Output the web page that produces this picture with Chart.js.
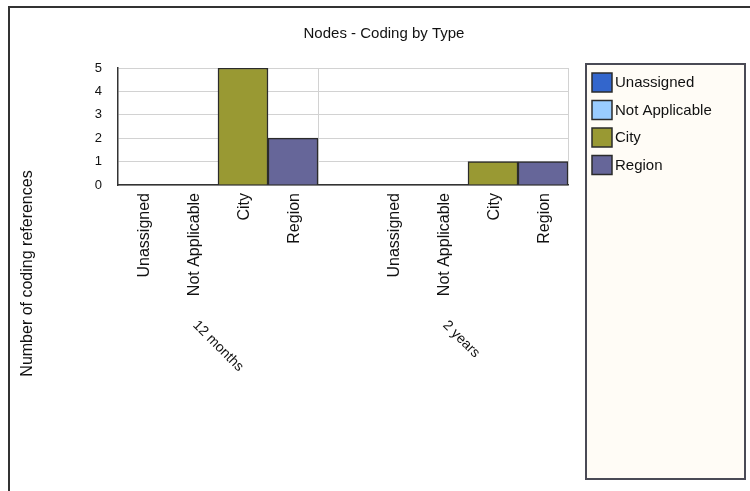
<!DOCTYPE html>
<html>
<head>
<meta charset="utf-8">
<script src="https://cdn.jsdelivr.net/npm/chart.js@4/dist/chart.umd.min.js"></script>
<style>
  html, body { margin: 0; padding: 0; background: #fff; }
  #wrap { width: 750px; height: 491px; position: relative; }
</style>
</head>
<body>
<div id="wrap"><canvas id="c" width="750" height="491"></canvas></div>
<script>
// ---- data ----
const periods = ['12 months', '2 years'];
const codeTypes = ['Unassigned', 'Not Applicable', 'City', 'Region'];
const unassignedRefs = [0, 0];
const notApplicableRefs = [0, 0];
const cityRefs = [5, 1];
const regionRefs = [2, 1];
const yTickValues = [0, 1, 2, 3, 4, 5];
const chartTitle = 'Nodes - Coding by Type';
const yAxisTitle = 'Number of coding references';
const typeColors = ['#3366CC', '#99CCFF', '#999933', '#666699'];

// one slot per (period, type), with an empty slot between periods
const slotsPerPeriod = codeTypes.length + 1;
const slotLabels = [];
periods.forEach((p, pi) => {
  codeTypes.forEach(t => slotLabels.push(t));
  if (pi < periods.length - 1) slotLabels.push('');
});
const seriesValues = [unassignedRefs, notApplicableRefs, cityRefs, regionRefs];
const datasets = codeTypes.map((t, ti) => {
  const data = slotLabels.map(() => null);
  periods.forEach((p, pi) => { data[pi * slotsPerPeriod + ti] = seriesValues[ti][pi]; });
  return {
    label: t,
    data,
    backgroundColor: typeColors[ti],
    borderColor: '#2b2b2b',
    borderWidth: 1.5,
    grouped: false,
    categoryPercentage: 1,
    barPercentage: 1
  };
});

const FONT = "'Liberation Sans', Arial, sans-serif";
Chart.defaults.font.family = FONT;
Chart.defaults.color = '#111';

// frame, legend panel, axis title and period labels
const decorations = {
  id: 'decorations',
  beforeDraw(chart) {
    const ctx = chart.ctx;
    ctx.save();
    ctx.strokeStyle = '#333';
    ctx.lineWidth = 2;
    ctx.beginPath();
    ctx.moveTo(9, 491);
    ctx.lineTo(9, 7);
    ctx.lineTo(750, 7);
    ctx.stroke();
    ctx.restore();
  },
  afterDraw(chart) {
    const ctx = chart.ctx;
    const area = chart.chartArea;
    const xs = chart.scales.x;
    ctx.save();

    // legend panel
    const px = area.right + 18, py = area.top - 4, pw = 159, ph = 415;
    ctx.fillStyle = '#FFFCF6';
    ctx.fillRect(px, py, pw, ph);
    ctx.strokeStyle = '#4a4a55';
    ctx.lineWidth = 2;
    ctx.strokeRect(px, py, pw, ph);
    ctx.font = '15px ' + FONT;
    ctx.textBaseline = 'middle';
    ctx.textAlign = 'left';
    chart.data.datasets.forEach((ds, i) => {
      const sy = py + 9 + i * 27.5;
      ctx.fillStyle = ds.backgroundColor;
      ctx.fillRect(px + 6, sy, 20, 19);
      ctx.strokeStyle = '#2b2b2b';
      ctx.lineWidth = 1.5;
      ctx.strokeRect(px + 6, sy, 20, 19);
      ctx.fillStyle = '#111';
      ctx.fillText(ds.label, px + 29, sy + 10);
    });

    // y axis title, centred on the whole plotting column
    ctx.save();
    ctx.translate(28, (area.top + py + ph) / 2);
    ctx.rotate(-Math.PI / 2);
    ctx.font = '16px ' + FONT;
    ctx.textAlign = 'center';
    ctx.textBaseline = 'middle';
    ctx.fillStyle = '#111';
    ctx.fillText(yAxisTitle, 0, 0);
    ctx.restore();

    // period labels below the type labels
    ctx.font = '14px ' + FONT;
    ctx.fillStyle = '#111';
    ctx.textAlign = 'left';
    ctx.textBaseline = 'middle';
    periods.forEach((p, pi) => {
      const a = xs.getPixelForValue(pi * slotsPerPeriod);
      const b = xs.getPixelForValue(pi * slotsPerPeriod + codeTypes.length - 1);
      const cx = (a + b) / 2;
      ctx.save();
      ctx.translate(cx - 23, 323);
      ctx.rotate(Math.PI / 4);
      ctx.fillText(p, 0, 0);
      ctx.restore();
    });
    ctx.restore();
  }
};

new Chart(document.getElementById('c'), {
  type: 'bar',
  data: { labels: slotLabels, datasets },
  plugins: [decorations],
  options: {
    responsive: false,
    animation: false,
    layout: { padding: { left: 18, right: 0, top: 10, bottom: 0 } },
    plugins: {
      legend: { display: false },
      tooltip: { enabled: false },
      title: {
        display: true,
        text: chartTitle,
        color: '#111',
        font: { size: 15, weight: 'normal' },
        padding: { top: 15, bottom: 25 }
      }
    },
    scales: {
      x: {
        grid: {
          drawTicks: false,
          color: (c) => (c.type !== 'tick' || c.index === codeTypes.length) ? '#d2d2d2' : 'rgba(0,0,0,0)',
          lineWidth: 1
        },
        border: { color: '#333', width: 1.5 },
        ticks: {
          autoSkip: false,
          minRotation: 90,
          maxRotation: 90,
          padding: 8,
          labelOffset: 2,
          font: { size: 16 },
          color: '#111'
        },
        afterFit: (s) => { s.height = 306; }
      },
      y: {
        min: 0,
        max: 5,
        afterBuildTicks: (s) => { s.ticks = yTickValues.map(v => ({ value: v })); },
        grid: { drawTicks: false, color: '#d2d2d2', lineWidth: 1 },
        border: { color: '#333', width: 1.5 },
        ticks: { padding: 16, font: { size: 13 }, color: '#111' },
        afterFit: (s) => { s.width = 100; }
      },
      // reserves the column on the right that holds the legend panel
      side: {
        type: 'linear',
        position: 'right',
        display: true,
        grid: { display: false },
        border: { display: false },
        ticks: { display: false },
        afterFit: (s) => { s.width = 182; }
      }
    }
  }
});
</script>
</body>
</html>
